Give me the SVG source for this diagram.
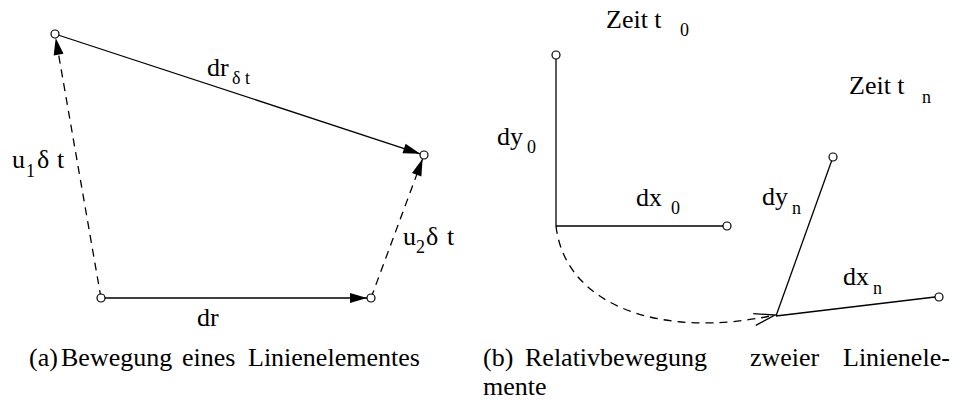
<svg xmlns="http://www.w3.org/2000/svg" width="960" height="405" viewBox="0 0 960 405">
<style>
.ln{stroke:#000;stroke-width:1.3;fill:none}
.dash{stroke-dasharray:8 6}
.pt{stroke:#000;stroke-width:1.2;fill:#fff}
.lb{font-size:26px;font-family:"Liberation Serif","Times New Roman",serif}
.sb{font-size:18px;font-family:"Liberation Serif","Times New Roman",serif}
.cap{font-size:26px;font-family:"Liberation Serif","Times New Roman",serif}
</style>
<defs>
<marker id="fa" markerUnits="userSpaceOnUse" markerWidth="20" markerHeight="12" refX="17" refY="5" orient="auto" overflow="visible">
<path d="M0,0 L17,5 L0,10 z" fill="#000"/>
</marker>
<marker id="oa" markerUnits="userSpaceOnUse" markerWidth="24" markerHeight="14" refX="0" refY="0" orient="auto" overflow="visible">
<path d="M-21,-6 L0,0 L-21,6" fill="none" stroke="#000" stroke-width="1.3"/>
</marker>
</defs>
<g id="connectors">
<line class="ln" x1="55" y1="34" x2="420.2" y2="153.8" marker-end="url(#fa)"/>
<line class="ln dash" x1="101" y1="298" x2="55.7" y2="37.9" marker-end="url(#fa)"/>
<line class="ln dash" x1="371" y1="298" x2="422.6" y2="158.8" marker-end="url(#fa)"/>
<line class="ln" x1="101" y1="298" x2="367" y2="298" marker-end="url(#fa)"/>
<line class="ln" x1="556" y1="59" x2="556" y2="226"/>
<line class="ln" x1="556" y1="226" x2="723" y2="226"/>
<line class="ln" x1="833" y1="157" x2="776" y2="316"/>
<line class="ln" x1="776" y1="316" x2="935" y2="297"/>
<path class="ln dash" d="M556,226 C565,305 660,340 775,315" marker-end="url(#oa)"/>
</g>
<g id="p1"><circle class="pt" cx="55" cy="34" r="4"/></g>
<g id="p2"><circle class="pt" cx="424" cy="155" r="4"/></g>
<g id="p3"><circle class="pt" cx="101" cy="298" r="4"/></g>
<g id="p4"><circle class="pt" cx="371" cy="298" r="4"/></g>
<g id="q0"><circle class="pt" cx="556" cy="55" r="4"/></g>
<g id="q1"><circle class="pt" cx="727" cy="226" r="4"/></g>
<g id="q2"><circle class="pt" cx="833" cy="157" r="4"/></g>
<g id="q3"><circle class="pt" cx="939" cy="297" r="4"/></g>
<g id="labels" fill="#000">
<text class="lb" x="207" y="76">dr</text><text class="sb" x="232" y="84">δ t</text>
<text class="lb" x="12" y="168">u</text><text class="sb" x="26" y="177">1</text><text class="lb" x="37" y="168">δ</text><text class="lb" x="57" y="168">t</text>
<text class="lb" x="403" y="245">u</text><text class="sb" x="416" y="253">2</text><text class="lb" x="426" y="245">δ</text><text class="lb" x="447" y="245">t</text>
<text class="lb" x="197" y="326">dr</text>
<text class="lb" x="606" y="28">Zeit t</text><text class="sb" x="680" y="36">0</text>
<text class="lb" x="849" y="94">Zeit t</text><text class="sb" x="922" y="103">n</text>
<text class="lb" x="497" y="145">dy</text><text class="sb" x="527" y="153">0</text>
<text class="lb" x="636" y="206">dx</text><text class="sb" x="671" y="214">0</text>
<text class="lb" x="762" y="205">dy</text><text class="sb" x="792" y="214">n</text>
<text class="lb" x="843" y="285">dx</text><text class="sb" x="873" y="294">n</text>
</g>
<g id="captions" fill="#000">
<text class="cap" y="366"><tspan x="29">(a)</tspan><tspan x="61">Bewegung</tspan><tspan x="182">eines</tspan><tspan x="248">Linienelementes</tspan></text>
<text class="cap" y="366"><tspan x="483">(b)</tspan><tspan x="525">Relativbewegung</tspan><tspan x="750">zweier</tspan><tspan x="843">Linienele-</tspan></text>
<text class="cap" x="483" y="395">mente</text>
</g>
</svg>
